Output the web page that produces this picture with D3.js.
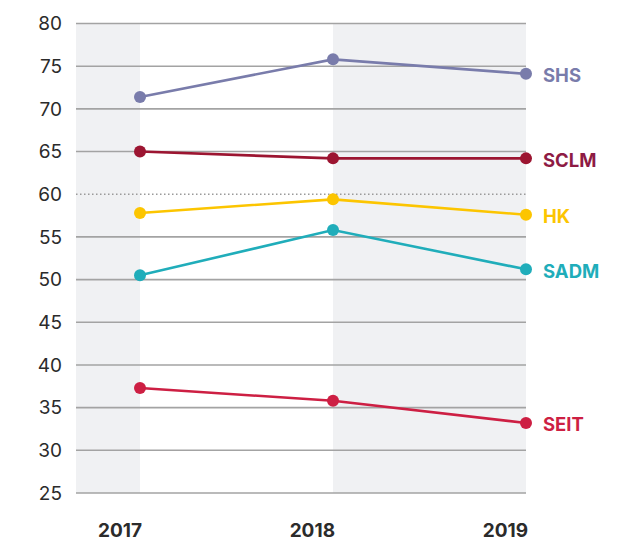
<!doctype html>
<html>
<head>
<script src="https://cdn.jsdelivr.net/npm/d3@7"></script>
<style>
  body { margin: 0; background: #fff; }
  text { font-family: Inter, "Noto Sans", sans-serif; }
</style>
</head>
<body>
<svg width="626" height="542"></svg>
<script>
// data
const years = ["2017", "2018", "2019"];
const yTicks = [25, 30, 35, 40, 45, 50, 55, 60, 65, 70, 75, 80];
const seriesNames = ["SHS", "SCLM", "HK", "SADM", "SEIT"];
const shs  = [71.4, 75.8, 74.1];
const sclm = [65.0, 64.2, 64.2];
const hk   = [57.8, 59.4, 57.6];
const sadm = [50.5, 55.8, 51.2];
const seit = [37.3, 35.8, 33.2];
const colors = ["#797cab", "#9c1531", "#fcc500", "#20adba", "#cd1f43"];
const labelColors = ["#797cab", "#8e1b44", "#fcc500", "#20adba", "#cd1f43"];

const series = [shs, sclm, hk, sadm, seit].map((v, i) => ({
  name: seriesNames[i], values: v, color: colors[i], labelColor: labelColors[i]
}));

const svg = d3.select("svg");
const left = 76, right = 526;

const x = d3.scalePoint().domain(years).range([140, 526]);
const y = d3.scaleLinear().domain([25, 80]).range([493, 23.5]);

// shaded columns
svg.append("rect").attr("x", left).attr("y", y(80))
  .attr("width", x("2017") - left).attr("height", y(25) - y(80))
  .attr("fill", "#f0f1f3");
svg.append("rect").attr("x", x("2018")).attr("y", y(80))
  .attr("width", right - x("2018")).attr("height", y(25) - y(80))
  .attr("fill", "#f0f1f3");

// grid
svg.append("g").selectAll("line").data(yTicks).join("line")
  .attr("x1", left).attr("x2", right)
  .attr("y1", d => y(d)).attr("y2", d => y(d))
  .attr("stroke", d => d === 60 ? "#9a9a9a" : "#a3a3a3")
  .attr("stroke-width", d => d === 60 ? 1.3 : 1.6)
  .attr("stroke-dasharray", d => d === 60 ? "1.5,2.5" : null);

svg.append("g").selectAll("text").data(yTicks).join("text")
  .attr("x", 62).attr("y", d => y(d)).attr("dy", "0.35em")
  .attr("text-anchor", "end")
  .attr("font-size", 19).attr("fill", "#2b2b2b")
  .text(d => d);

svg.append("g").selectAll("text").data(years).join("text")
  .attr("x", d => x(d) + 2).attr("y", 537)
  .attr("text-anchor", "end")
  .attr("font-size", 19).attr("font-weight", 700).attr("fill", "#2b2b2b")
  .text(d => d);

const line = d3.line().x((d, i) => x(years[i])).y(d => y(d));

const g = svg.append("g").selectAll("g").data(series).join("g");
g.append("path").attr("d", d => line(d.values))
  .attr("fill", "none").attr("stroke", d => d.color).attr("stroke-width", 2.6);
g.selectAll("circle").data(d => d.values.map(v => ({ v, c: d.color }))).join("circle")
  .attr("cx", (d, i) => x(years[i])).attr("cy", d => y(d.v))
  .attr("r", 6).attr("fill", d => d.c);
g.append("text")
  .attr("x", 543).attr("y", d => y(d.values[2]) + 1.5).attr("dy", "0.36em")
  .attr("font-size", 18.5).attr("font-weight", 700)
  .attr("fill", d => d.labelColor)
  .text(d => d.name);
</script>
</body>
</html>
